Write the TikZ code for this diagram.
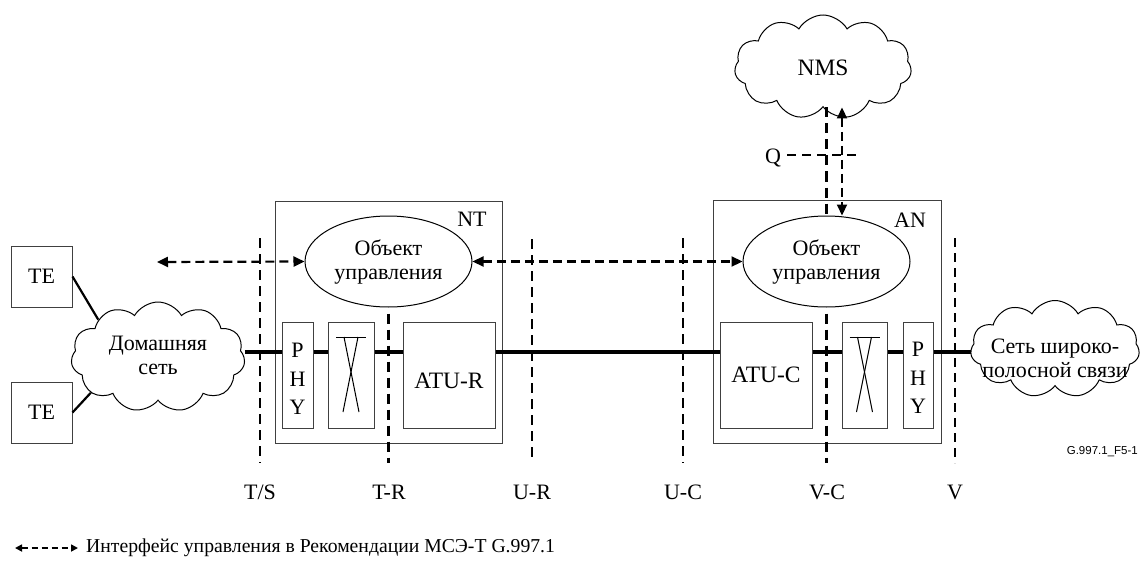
\documentclass[tikz,border=0pt]{standalone}
\usepackage{fontspec}
\setmainfont{Liberation Serif}
\newfontfamily\figsans{Liberation Sans}
\usetikzlibrary{shapes.geometric,shapes.symbols,arrows.meta}

\tikzset{
  txt/.style={font=\fontsize{22}{24}\selectfont, inner sep=0pt, align=center},
  big/.style={font=\fontsize{23.5}{26}\selectfont},
  box/.style={draw=black!75, line width=1pt, inner sep=0pt, txt},
  obj/.style={ellipse, draw, line width=1pt, minimum width=167pt, minimum height=91pt, inner sep=0pt, txt},
  cloudy/.style={cloud, draw, line width=1pt, cloud puffs=11, cloud puff arc=120, inner sep=0pt},
  rail/.style={line width=3.2pt},
  mgmt/.style={line width=2.2pt, dash pattern=on 9pt off 5pt, {Triangle[length=11pt,width=10pt]}-{Triangle[length=11pt,width=10pt]}},
  refline/.style={line width=2.2pt, dash pattern=on 10pt off 6pt},
  thinref/.style={line width=1.1pt, dash pattern=on 9pt off 6pt},
  crossx/.pic={
    \draw[line width=1pt] (-15,-38) -- (15,-38);
    \draw[line width=1pt] (-7,-38) -- (8,37);
    \draw[line width=1pt] (7,-38) -- (-8,37);
  }
}

\begin{document}
\begin{tikzpicture}[x=1pt, y=-1pt]
\useasboundingbox (0,0) rectangle (1141,562);

% terminal equipment and home network
\node[box, minimum width=61pt, minimum height=61pt] (te1) at (41.5,276.5) {TE};
\node[box, minimum width=61pt, minimum height=61pt] (te2) at (41.5,412.5) {TE};
\node[cloudy, minimum width=174pt, minimum height=110pt] (home) at (158,357) {};
\node[txt] (hometxt) at (158,355) {Домашняя\\сеть};
\draw[line width=2.2pt] (te1.east) -- (home.148);
\draw[line width=2.2pt] (te2.east) -- (home.208);

% network termination
\node[box, minimum width=227pt, minimum height=242pt] (nt) at (388.5,322) {};
\node[txt] (ntlab) at (472,219) {NT};
\node[obj] (ntobj) at (388.5,261.5) {Объект\\управления};
\node[box, minimum width=31pt, minimum height=106pt, font=\fontsize{22}{28.5}\selectfont] (phyR) at (297.5,375) {};
\node[txt, font=\fontsize{22}{28.5}\selectfont] (phyRtxt) at (297.5,379) {P\\H\\Y};
\node[box, minimum width=46pt, minimum height=106pt] (xR) at (351,375) {};
\pic at (xR.center) {crossx};
\node[box, big, minimum width=92pt, minimum height=106pt, text height=26pt, text depth=0pt] (atur) at (449,375) {ATU-R};

% access node
\node[box, minimum width=228pt, minimum height=243pt] (an) at (827,321.5) {};
\node[txt] (anlab) at (910,220) {AN};
\node[obj] (anobj) at (826.5,261.5) {Объект\\управления};
\node[box, big, minimum width=92pt, minimum height=106pt] (atuc) at (766,375) {ATU-C};
\node[box, minimum width=45pt, minimum height=106pt] (xC) at (864.5,375) {};
\pic at (xC.center) {crossx};
\node[box, minimum width=30pt, minimum height=106pt] (phyC) at (918,375) {};
\node[txt, font=\fontsize{22}{28.5}\selectfont] (phyCtxt) at (918,378) {P\\H\\Y};

% management system and broadband network
\node[cloudy, minimum width=177pt, minimum height=104pt] (nms) at (823,67) {};
\node[txt, big] (nmstxt) at (823,68) {NMS};
\node[cloudy, minimum width=169pt, minimum height=97pt] (bb) at (1055,349) {};
\node[txt] (bbtxt) at (1055,358) {Сеть широко-\\полосной связи};

% transmission path
\coordinate (path) at (0,352);
\draw[rail] (home.east |- path) -- (phyR.west |- path);
\draw[rail] (phyR.east |- path) -- (xR.west |- path);
\draw[rail] (xR.east |- path) -- (atur.west |- path);
\draw[rail] (atur.east |- path) -- (atuc.west |- path);
\draw[rail] (atuc.east |- path) -- (xC.west |- path);
\draw[rail] (xC.east |- path) -- (phyC.west |- path);
\draw[rail] (phyC.east |- path) -- (bb.west |- path);

% management interfaces
\coordinate (mgL) at (157,262);
\draw[mgmt] (mgL) -- (ntobj.west);
\draw[mgmt] (ntobj.east) -- (anobj.west);
\coordinate (qx) at (842,0);
\draw[mgmt] (nms.south -| qx) -- (anobj.north -| qx);
\draw[refline] (nms.south -| anobj.north) -- (anobj.north);
\node[txt] (qlab) at (773,158) {Q};
\coordinate (qend) at (862,155);
\draw[thinref] ([xshift=6pt]qlab.east |- qend) -- (qend);

% reference points
\node[txt] (lTS) at (260,492) {T/S};
\node[txt] (lTR) at (389,492) {T-R};
\node[txt] (lUR) at (532,492) {U-R};
\node[txt] (lUC) at (683,492) {U-C};
\node[txt] (lVC) at (827,492) {V-C};
\node[txt] (lV)  at (955,492) {V};
\coordinate (tTS) at (260,238);
\coordinate (tUR) at (532,239);
\coordinate (tUC) at (683,238);
\coordinate (tV)  at (955,238);
\coordinate (bot) at (0,463);
\draw[refline] (tTS) -- (tTS |- bot);
\draw[refline, shorten <=6pt] (ntobj.south) -- (ntobj.south |- bot);
\draw[refline] (tUR) -- (tUR |- bot);
\draw[refline] (tUC) -- (tUC |- bot);
\draw[refline, shorten <=6pt] (anobj.south) -- (anobj.south |- bot);
\draw[thinref] (tV) -- (tV |- bot);

\node[anchor=east, inner sep=0pt, font=\figsans\fontsize{11.5}{14}\selectfont] (fig) at (1138,452) {G.997.1\_F5-1};

% legend
\node[anchor=west, inner sep=0pt, font=\fontsize{19.7}{24}\selectfont] (legtxt) at (86,548) {Интерфейс управления в Рекомендации МСЭ-Т G.997.1};
\coordinate (legA) at (15,548);
\draw[line width=1.6pt, dash pattern=on 6pt off 4pt, {Triangle[length=7pt,width=7pt]}-{Triangle[length=7pt,width=7pt]}] (legA) -- ([xshift=-8pt]legtxt.west);
\end{tikzpicture}
\end{document}
